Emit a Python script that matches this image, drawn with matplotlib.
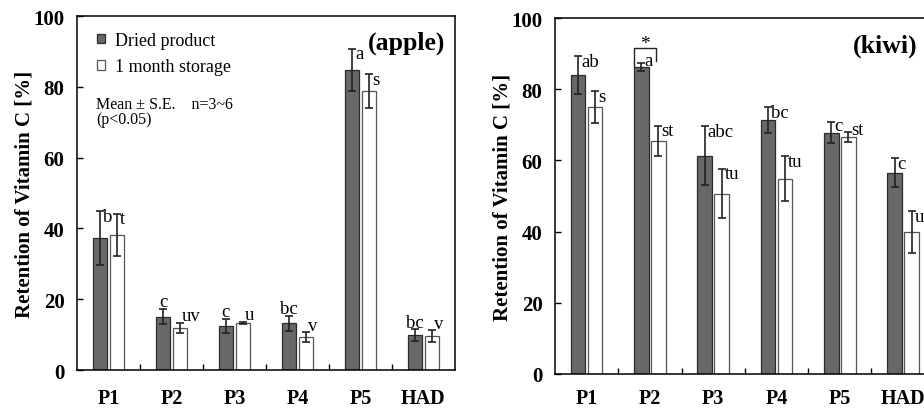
import matplotlib
matplotlib.use("Agg")
import matplotlib.pyplot as plt
import matplotlib.ticker as mticker
import numpy as np

plt.rcParams["font.family"] = ["Liberation Serif", "DejaVu Serif"]

CATEGORIES = ["P1", "P2", "P3", "P4", "P5", "HAD"]
SERIES = ["Dried product", "1 month storage"]

# apple
APPLE_DRIED = [37.4, 15.1, 12.5, 13.2, 84.8, 9.9]
APPLE_DRIED_ERR = [7.6, 2.2, 2.0, 2.1, 6.0, 1.6]
APPLE_STORED = [38.2, 11.9, 13.3, 9.3, 78.8, 9.6]
APPLE_STORED_ERR = [6.0, 1.5, 0.4, 1.4, 4.7, 1.6]
APPLE_DRIED_LETTERS = ["b", "c", "c", "bc", "a", "bc"]
APPLE_STORED_LETTERS = ["t", "uv", "u", "v", "s", "v"]

# kiwi
KIWI_DRIED = [84.1, 86.2, 61.3, 71.4, 67.8, 56.6]
KIWI_DRIED_ERR = [5.3, 1.2, 8.3, 3.6, 3.0, 4.1]
KIWI_STORED = [75.1, 65.5, 50.7, 54.9, 66.6, 39.9]
KIWI_STORED_ERR = [4.5, 4.3, 7.0, 6.3, 1.5, 5.8]
KIWI_DRIED_LETTERS = ["ab", "a", "abc", "bc", "c", "c"]
KIWI_STORED_LETTERS = ["s", "st", "tu", "tu", "st", "u"]

DARK = "#686868"
DARK_EDGE = "#2b2b2b"
LIGHT_EDGE = "#555555"
OFF = 0.135
W = 0.23
LETTER_FS = 13.5


def letter(ax, x, val, err, txt, dark):
    top = val + err
    if val < 30:
        # short bars: letter sits above the error bar
        if dark:
            ax.text(x, top + 2.0, txt, ha="center", va="center", fontsize=LETTER_FS)
        else:
            ax.text(x + 0.03, top + 2.0, txt, ha="left", va="center", fontsize=LETTER_FS)
    else:
        y = max(top - 1.5, val + 2.0)
        ax.text(x + 0.05, y, txt, ha="left", va="center", fontsize=LETTER_FS)


def panel(ax, dried, dried_err, stored, stored_err, l_dried, l_stored, name, name_x, xpad):
    x = np.arange(len(CATEGORIES))
    ekw = dict(ecolor="#222222", elinewidth=1.2, capsize=2.6, capthick=1.2)
    b1 = ax.bar(x - OFF, dried, W, color=DARK, edgecolor=DARK_EDGE, linewidth=0.9,
                yerr=dried_err, error_kw=ekw, label=SERIES[0], zorder=2)
    b2 = ax.bar(x + OFF, stored, W, color="white", edgecolor=LIGHT_EDGE, linewidth=0.9,
                yerr=stored_err, error_kw=ekw, label=SERIES[1], zorder=2)
    for i in range(len(x)):
        letter(ax, x[i] - OFF, dried[i], dried_err[i], l_dried[i], True)
        letter(ax, x[i] + OFF, stored[i], stored_err[i], l_stored[i], False)

    ax.set_xlim(-0.5, len(x) - 0.5)
    ax.set_ylim(0, 100)
    ax.set_yticks(np.arange(0, 101, 20))
    ax.set_xticks(x)
    ax.set_xticklabels(CATEGORIES, fontweight="bold", fontsize=14.5)
    ax.xaxis.set_minor_locator(mticker.FixedLocator(x[:-1] + 0.5))
    ax.tick_params(axis="x", which="major", length=0, pad=xpad)
    ax.tick_params(axis="x", which="minor", direction="in", length=4, width=1)
    ax.tick_params(axis="y", direction="in", length=4, width=1, pad=9, labelsize=15)
    for t in ax.get_yticklabels():
        t.set_fontweight("bold")
    ax.set_ylabel("Retention of Vitamin C [%]", fontweight="bold", fontsize=15)
    ax.yaxis.set_label_coords(-0.112, 0.5)
    for s in ax.spines.values():
        s.set_linewidth(1.1)
    ax.text(name_x, 0.925, name, transform=ax.transAxes, ha="right", va="center",
            fontsize=18.5, fontweight="bold")
    return b1, b2


fig = plt.figure(figsize=(9.24, 4.10), dpi=100)
ax1 = fig.add_axes([0.0833, 0.0951, 0.409, 0.8634])
ax2 = fig.add_axes([0.6006, 0.0854, 0.411, 0.868])

b1, b2 = panel(ax1, APPLE_DRIED, APPLE_DRIED_ERR, APPLE_STORED, APPLE_STORED_ERR,
               APPLE_DRIED_LETTERS, APPLE_STORED_LETTERS, "(apple)", 0.975, 13)
ax1.legend(handles=[b1.patches[0], b2.patches[0]], labels=SERIES, loc="upper left",
           bbox_to_anchor=(0.01, 1.0), frameon=False, fontsize=13,
           handlelength=0.42, handleheight=0.42, handletextpad=0.6, labelspacing=0.5)
ax1.text(0.05, 0.775, "Mean \u00b1 S.E.    n=3~6\n(p<0.05)", transform=ax1.transAxes,
         ha="left", va="top", fontsize=11.5, linespacing=0.95)

panel(ax2, KIWI_DRIED, KIWI_DRIED_ERR, KIWI_STORED, KIWI_STORED_ERR,
      KIWI_DRIED_LETTERS, KIWI_STORED_LETTERS, "(kiwi)", 0.955, 10)

# significance bracket over kiwi P2 dried bar
i = 1
left = i - OFF - W / 2
right = i + 0.09
top = 91.7
ax2.plot([left, left, right, right],
         [KIWI_DRIED[i], top, top, KIWI_DRIED[i] + KIWI_DRIED_ERR[i] + 0.6],
         color="#222222", linewidth=1.0, zorder=3)
ax2.text((left + right) / 2, top + 1.2, "*", ha="center", va="center", fontsize=14)

fig.savefig("out.png", dpi=100)
